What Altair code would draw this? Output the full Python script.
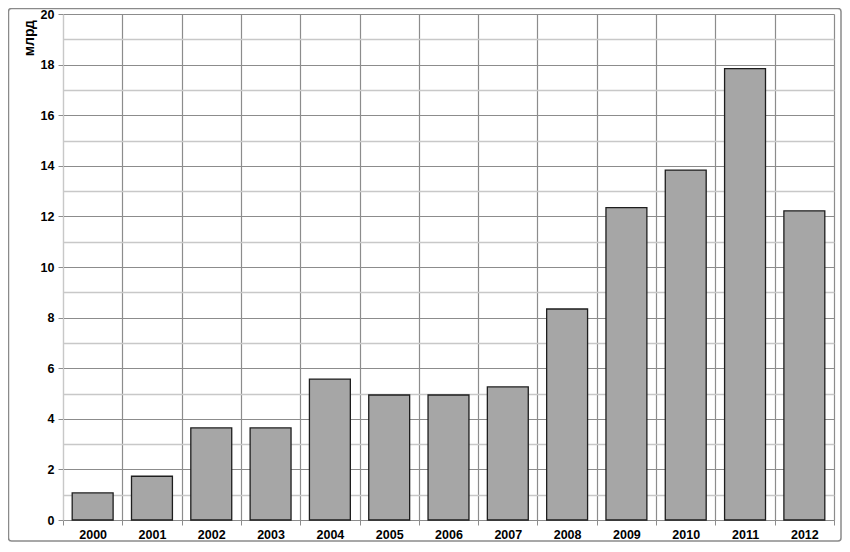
import altair as alt
import pandas as pd

years = [str(y) for y in range(2000, 2013)]
values = [1.07, 1.73, 3.64, 3.64, 5.57, 4.94, 4.94, 5.26, 8.34, 12.35, 13.83, 17.84, 12.22]
y_grid = [i * 0.5 for i in range(41)]
y_title = "млрд"

df = pd.DataFrame({"year": years, "value": values})
FONT = "Liberation Sans"
W, H = 771, 506

major = "datum.value % 2 === 0"

x_enc = alt.X(
    "year:N", sort=years, title=None,
    scale=alt.Scale(paddingInner=0, paddingOuter=0),
    axis=alt.Axis(
        labelAngle=0, labelFont=FONT, labelFontWeight="bold", labelFontSize=12.5,
        labelColor="#000", labelPadding=3, tickBand="extent", grid=True,
        gridColor="#8c8c8c", gridOpacity=1, gridWidth=1.2, tickColor="#8c8c8c", tickSize=5,
        domainColor="#8c8c8c",
    ),
)
y_enc = alt.Y(
    "value:Q", title=None,
    scale=alt.Scale(domain=[0, 20], nice=False),
    axis=alt.Axis(
        values=y_grid, format="d", labelExpr=f"{major} ? datum.label : ''",
        labelFont=FONT, labelFontWeight="bold", labelFontSize=12.5, labelColor="#000",
        labelPadding=4, grid=True, gridOpacity=1,
        gridColor=alt.condition(major, alt.value("#8c8c8c"), alt.value("#c8c8c8")),
        gridWidth=alt.condition(major, alt.value(1.2), alt.value(1.6)),
        tickColor=alt.condition(major, alt.value("#8c8c8c"), alt.value("transparent")),
        tickSize=5, domainColor="#c8c8c8",
    ),
)

bars = alt.Chart(df).mark_bar(
    width=alt.RelativeBandSize(0.69), fill="#a6a6a6", stroke="#1e1e1e", strokeWidth=1.3
).encode(x=x_enc, y=y_enc)

title = alt.Chart(pd.DataFrame({"t": [y_title]})).mark_text(
    angle=270, align="right", baseline="middle", font=FONT, fontWeight="bold",
    fontSize=14, color="#000"
).encode(x=alt.value(-33), y=alt.value(6), text="t:N")

frame = alt.Chart(pd.DataFrame({"a": [0]})).mark_rect(
    fill="transparent", stroke="#8a8a8a", strokeWidth=1.5, cornerRadius=3
).encode(x=alt.value(-54.5), x2=alt.value(W + 7), y=alt.value(-5.5), y2=alt.value(H + 21))

chart = alt.layer(frame, bars, title).properties(
    width=W, height=H, autosize="none",
    padding={"left": 55, "top": 6, "right": 8, "bottom": 22},
    background="white",
).configure_view(stroke=None)

chart.save("out.html", embed_options={"renderer": "svg", "actions": False})
